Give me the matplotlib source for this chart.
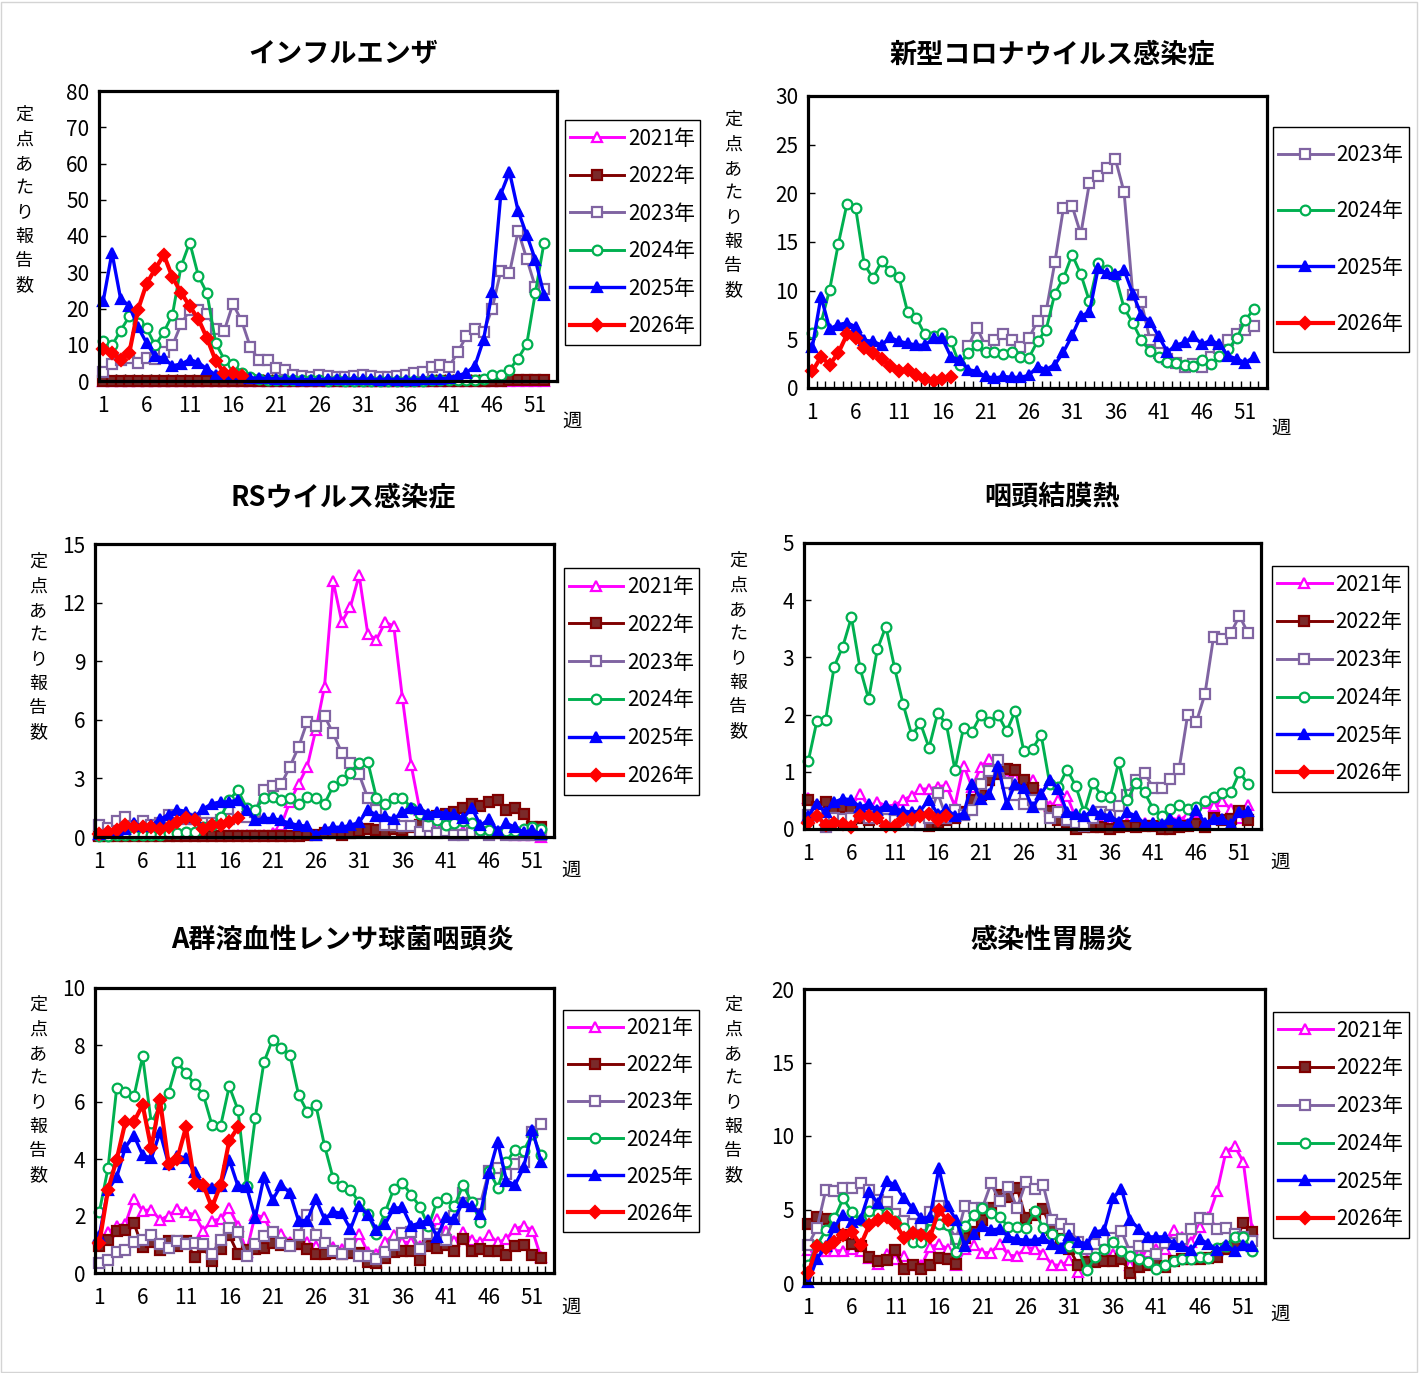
import numpy as np
import matplotlib
matplotlib.use("Agg")
import matplotlib.pyplot as plt
from matplotlib.patches import Rectangle

plt.rcParams['font.family'] = ['Noto Sans CJK JP', 'DejaVu Sans']

# ---------------- data (定点あたり報告数, by week) ----------------
years = ["2021年", "2022年", "2023年", "2024年", "2025年", "2026年"]
tick_weeks = [1, 6, 11, 16, 21, 26, 31, 36, 41, 46, 51]

# インフルエンザ
flu_2021 = [0.0, 0.0, 0.0, 0.0, 0.0, 0.0, 0.0, 0.0, 0.0, 0.0,
            0.0, 0.0, 0.0, 0.0, 0.0, 0.0, 0.0, 0.0, 0.0, 0.0,
            0.0, 0.0, 0.0, 0.0, 0.0, 0.0, 0.0, 0.0, 0.0, 0.0,
            0.0, 0.0, 0.0, 0.0, 0.0, 0.0, 0.0, 0.0, 0.0, 0.0,
            0.0, 0.0, 0.0, 0.0, 0.0, 0.0, 0.0, 0.0, 0.0, 0.0, 0.0, 0.0]
flu_2022 = [0.1, 0.1, 0.1, 0.1, 0.1, 0.1, 0.1, 0.1, 0.1, 0.1,
            0.1, 0.1, 0.1, 0.1, 0.1, 0.1, 0.1, 0.1, 0.1, 0.1,
            0.1, 0.1, 0.1, 0.1, 0.1, 0.1, 0.1, 0.1, 0.1, 0.1,
            0.1, 0.1, 0.1, 0.1, 0.1, 0.1, 0.1, 0.1, 0.1, 0.1,
            0.1, 0.1, 0.1, 0.1, 0.1, 0.1, 0.1, 0.2, 0.2, 0.2, 0.3, 0.3]
flu_2023 = [2.4, 4.7, 5.9, 6.3, 5.1, 6.3, 6.1, 7.9, 9.8, 15.7,
            19.6, 19.6, 18.5, 14.3, 13.9, 21.3, 16.6, 9.5, 5.7, 5.9,
            3.5, 2.9, 1.7, 1.3, 1.0, 1.6, 1.3, 1.0, 1.1, 1.3,
            1.7, 1.3, 1.0, 1.1, 1.3, 1.7, 2.2, 2.5, 4.0, 4.5,
            3.9, 7.9, 12.3, 14.4, 13.5, 20.0, 30.4, 29.7, 41.4, 33.7, 25.9, 25.4]
flu_2024 = [11.1, 9.8, 13.9, 17.8, 16.0, 14.6, 9.8, 13.5, 18.3, 31.7,
            38.2, 29.0, 24.2, 10.5, 5.9, 4.8, 2.2, 1.0, 0.6, 0.4,
            0.3, 0.3, 0.2, 0.2, 0.2, 0.2, 0.1, 0.2, 0.1, 0.1,
            0.1, 0.1, 0.1, 0.1, 0.1, 0.1, 0.1, 0.1, 0.2, 0.2,
            0.2, 0.3, 0.4, 0.4, 0.5, 1.7, 1.6, 3.1, 6.2, 10.2, 24.4, 38.2]
flu_2025 = [22.2, 35.4, 22.7, 20.7, 15.0, 10.5, 6.8, 6.3, 4.2, 4.7,
            5.9, 5.1, 3.3, 1.7, 1.5, 1.2, 1.0, 0.9, 0.8, 0.7,
            0.6, 0.5, 0.5, 0.4, 0.4, 0.4, 0.5, 0.6, 0.5, 0.5,
            0.5, 0.5, 0.4, 0.5, 0.4, 0.4, 0.4, 0.5, 0.5, 0.6,
            0.8, 1.5, 2.2, 4.2, 11.4, 24.6, 51.6, 57.7, 46.9, 40.3, 33.4, 23.8]
flu_2026 = [8.8, 7.7, 5.9, 7.7, 19.6, 26.8, 30.9, 34.8, 28.6, 24.4,
            20.6, 17.1, 11.8, 5.6, 2.2, 2.2, 1.5]

# 新型コロナウイルス感染症 (2023年は第19週から)
cov_2023 = [None, None, None, None, None, None, None, None, None, None,
            None, None, None, None, None, None, None, None, 4.3, 6.2,
            4.3, 4.9, 5.5, 4.9, 4.2, 5.1, 6.9, 7.9, 12.9, 18.5,
            18.7, 15.8, 21.1, 21.8, 22.6, 23.5, 20.1, 9.6, 8.8, 4.9,
            3.6, 3.0, 2.6, 2.2, 2.5, 2.2, 3.2, 4.1, 4.9, 5.5, 6.0, 6.4]
cov_2024 = [5.7, 6.7, 10.1, 14.8, 18.9, 18.5, 12.7, 11.3, 13.0, 12.0,
            11.4, 7.8, 7.2, 5.5, 5.3, 5.6, 4.8, 2.4, 3.6, 4.4,
            3.7, 3.7, 3.5, 3.7, 3.2, 3.1, 4.8, 6.0, 9.7, 11.3,
            13.7, 11.7, 8.9, 12.8, 12.1, 11.5, 8.2, 6.7, 4.9, 3.8,
            3.2, 2.7, 2.6, 2.4, 2.3, 2.9, 2.5, 3.3, 4.0, 5.1, 7.0, 8.1]
cov_2025 = [4.2, 9.4, 6.1, 6.5, 6.7, 6.3, 4.9, 4.8, 4.4, 5.2,
            4.8, 4.6, 4.4, 4.4, 5.1, 5.1, 3.2, 2.9, 1.9, 1.7,
            1.2, 1.0, 1.2, 1.1, 1.1, 1.3, 2.2, 1.9, 2.4, 3.7,
            5.4, 7.4, 7.8, 12.3, 11.8, 11.7, 12.1, 9.7, 7.5, 6.8,
            5.3, 3.7, 4.4, 4.7, 5.3, 4.5, 4.9, 4.5, 3.3, 3.0, 2.6, 3.2]
cov_2026 = [1.7, 3.2, 2.4, 3.6, 5.5, 5.1, 4.1, 3.6, 3.0, 2.3,
            1.7, 1.8, 1.3, 0.9, 0.7, 0.9, 1.1]

# RSウイルス感染症
rs_2021 = [0.1, 0.1, 0.1, 0.1, 0.1, 0.1, 0.1, 0.1, 0.1, 0.1,
           0.1, 0.1, 0.1, 0.1, 0.1, 0.1, 0.1, 0.1, 0.1, 0.1,
           0.2, 0.6, 1.8, 2.7, 3.6, 5.5, 7.7, 13.1, 11.0, 11.8,
           13.4, 10.4, 10.1, 11.0, 10.8, 7.1, 3.7, 1.4, 0.8, 0.5,
           0.4, 0.3, 0.3, 0.3, 0.3, 0.2, 0.2, 0.2, 0.1, 0.1, 0.1, 0.0]
rs_2022 = [0.05, 0.05, 0.05, 0.05, 0.05, 0.05, 0.05, 0.05, 0.05, 0.05,
           0.05, 0.05, 0.05, 0.05, 0.05, 0.05, 0.05, 0.05, 0.05, 0.05,
           0.05, 0.05, 0.05, 0.05, 0.1, 0.1, 0.2, 0.2, 0.1, 0.2,
           0.3, 0.4, 0.35, 0.25, 0.4, 0.35, 0.5, 0.6, 0.9, 1.1,
           1.2, 1.3, 1.5, 1.7, 1.6, 1.8, 1.9, 1.4, 1.5, 1.2, 0.5, 0.5]
rs_2023 = [0.6, 0.45, 0.8, 1.0, 0.55, 0.8, 0.6, 0.7, 1.15, 0.95,
           0.9, 0.9, 0.7, 0.7, 0.85, 0.9, 1.4, 1.0, 1.3, 2.4,
           2.6, 2.7, 3.6, 4.6, 5.9, 5.7, 6.2, 5.3, 4.3, 3.8,
           3.2, 2.0, 1.4, 0.6, 0.6, 0.55, 0.55, 0.25, 0.55, 0.2,
           0.3, 0.1, 0.1, 0.2, 0.25, 0.1, 0.2, 0.1, 0.1, 0.1, 0.1, 0.1]
rs_2024 = [0.05, 0.05, 0.1, 0.1, 0.1, 0.1, 0.1, 0.1, 0.2, 0.2,
           0.25, 0.25, 0.5, 0.6, 1.0, 1.9, 2.4, 1.5, 1.4, 2.0,
           2.05, 1.9, 2.0, 1.7, 2.05, 2.0, 1.7, 2.6, 2.9, 3.3,
           3.8, 3.85, 2.0, 1.7, 2.0, 2.0, 1.5, 1.2, 1.1, 0.85,
           0.6, 0.7, 0.8, 0.7, 0.35, 0.35, 0.25, 0.3, 0.3, 0.4, 0.5, 0.4]
rs_2025 = [0.15, 0.25, 0.35, 0.4, 0.7, 0.55, 0.6, 0.9, 1.15, 1.4,
           1.3, 1.0, 1.45, 1.7, 1.8, 1.8, 1.9, 1.4, 0.85, 0.95,
           0.95, 0.85, 0.7, 0.6, 0.55, 0.1, 0.4, 0.5, 0.5, 0.6,
           0.75, 1.4, 1.1, 1.05, 0.9, 1.3, 1.5, 1.45, 1.2, 1.3,
           1.2, 1.2, 0.95, 1.5, 0.6, 0.9, 0.3, 0.7, 0.5, 0.25, 0.35, 0.15]
rs_2026 = [0.15, 0.25, 0.35, 0.6, 0.5, 0.5, 0.5, 0.4, 0.5, 0.75,
           0.95, 0.85, 0.4, 0.6, 0.6, 0.75, 0.95]

# 咽頭結膜熱
ad_2021 = [0.55, 0.35, 0.3, 0.3, 0.35, 0.4, 0.61, 0.4, 0.47, 0.41,
           0.41, 0.51, 0.58, 0.7, 0.7, 0.74, 0.76, 0.4, 1.11, 0.73,
           1.08, 1.23, 1.2, 0.9, 0.9, 0.75, 0.85, 0.61, 0.4, 0.5,
           0.58, 0.2, 0.1, 0.15, 0.1, 0.1, 0.1, 0.1, 0.15, 0.1,
           0.1, 0.15, 0.2, 0.15, 0.25, 0.3, 0.45, 0.41, 0.49, 0.35, 0.2, 0.42]
ad_2022 = [0.51, 0.38, 0.47, 0.3, 0.38, 0.35, 0.2, 0.15, 0.2, 0.15,
           0.15, 0.2, 0.15, 0.1, 0.05, 0.1, 0.15, 0.2, 0.3, 0.5,
           0.6, 0.86, 0.96, 1.05, 1.04, 0.86, 0.72, 0.44, 0.32, 0.15,
           0.1, 0.0, 0.03, 0.03, 0.04, 0.0, 0.04, 0.06, 0.04, 0.05,
           0.05, 0.0, 0.0, 0.03, 0.06, 0.09, 0.03, 0.2, 0.15, 0.18, 0.32, 0.15]
ad_2023 = [0.25, 0.3, 0.03, 0.2, 0.18, 0.2, 0.25, 0.2, 0.25, 0.18,
           0.15, 0.09, 0.15, 0.07, 0.2, 0.63, 0.2, 0.33, 0.25, 0.33,
           0.79, 1.02, 1.2, 0.8, 0.6, 0.44, 0.5, 0.44, 0.2, 0.29,
           0.15, 0.1, 0.06, 0.2, 0.29, 0.25, 0.41, 0.6, 0.86, 0.98,
           0.72, 0.72, 0.88, 1.05, 2.0, 1.87, 2.36, 3.36, 3.32, 3.42, 3.73, 3.42]
ad_2024 = [1.19, 1.89, 1.9, 2.84, 3.19, 3.7, 2.81, 2.27, 3.14, 3.54,
           2.82, 2.18, 1.64, 1.85, 1.42, 2.02, 1.84, 1.04, 1.77, 1.7,
           1.99, 1.87, 2.0, 1.71, 2.06, 1.36, 1.4, 1.65, 0.79, 0.73,
           1.04, 0.76, 0.29, 0.81, 0.58, 0.56, 1.17, 0.51, 0.8, 0.64,
           0.35, 0.23, 0.35, 0.42, 0.35, 0.38, 0.49, 0.56, 0.63, 0.64, 0.99, 0.79]
ad_2025 = [0.23, 0.44, 0.29, 0.47, 0.53, 0.51, 0.38, 0.44, 0.33, 0.41,
           0.35, 0.32, 0.29, 0.32, 0.51, 0.26, 0.35, 0.23, 0.27, 0.79,
           0.53, 0.61, 1.11, 0.44, 0.79, 0.72, 0.38, 0.61, 0.85, 0.7,
           0.29, 0.27, 0.22, 0.33, 0.26, 0.23, 0.13, 0.29, 0.23, 0.09,
           0.1, 0.09, 0.18, 0.12, 0.09, 0.33, 0.1, 0.18, 0.18, 0.09, 0.29, 0.31]
ad_2026 = [0.1, 0.23, 0.07, 0.1, 0.09, 0.04, 0.23, 0.23, 0.2, 0.06,
           0.06, 0.18, 0.18, 0.23, 0.26, 0.15, 0.23]

# A群溶血性レンサ球菌咽頭炎
gas_2021 = [1.19, 1.43, 1.64, 1.72, 2.6, 2.19, 2.22, 1.87, 2.01, 2.25,
            2.13, 2.04, 1.49, 1.84, 1.89, 2.27, 1.66, 0.75, 2.04, 1.95,
            1.37, 1.37, 1.1, 1.02, 1.08, 0.96, 0.9, 0.9, 0.84, 0.73,
            1.37, 0.73, 0.67, 1.1, 1.33, 1.08, 1.08, 0.96, 1.02, 1.89,
            1.49, 1.13, 1.43, 1.16, 1.08, 1.33, 1.08, 1.19, 1.54, 1.66, 1.49, 0.55]
gas_2022 = [0.96, 1.16, 1.49, 1.52, 1.74, 0.9, 1.1, 0.82, 1.13, 0.96,
            1.13, 0.55, 0.9, 0.43, 0.84, 1.33, 0.67, 0.8, 0.84, 0.87,
            1.05, 0.98, 1.0, 1.02, 0.84, 0.67, 0.67, 0.7, 0.67, 0.7,
            0.7, 0.4, 0.34, 0.51, 0.75, 0.78, 0.78, 0.47, 0.96, 0.88,
            1.0, 0.78, 1.19, 0.78, 0.84, 0.78, 0.78, 0.63, 0.96, 0.98, 0.63, 0.51]
gas_2023 = [0.35, 0.47, 0.73, 0.81, 1.1, 1.17, 1.33, 1.02, 0.87, 1.13,
            1.02, 1.05, 1.02, 0.67, 1.17, 1.57, 1.43, 0.61, 1.02, 1.31,
            1.43, 1.05, 0.96, 1.33, 2.04, 1.33, 1.05, 0.78, 0.67, 1.02,
            0.58, 0.58, 0.49, 0.75, 0.98, 1.4, 1.43, 0.84, 1.37, 1.37,
            1.17, 2.01, 2.81, 2.36, 2.42, 3.59, 3.67, 3.47, 3.82, 3.88, 4.94, 5.23]
gas_2024 = [2.15, 3.67, 6.48, 6.34, 6.2, 7.6, 5.26, 5.85, 6.32, 7.39,
            7.02, 6.63, 6.26, 5.2, 5.15, 6.55, 5.73, 3.06, 5.43, 7.39,
            8.19, 7.88, 7.66, 6.26, 5.66, 5.9, 4.47, 3.32, 3.06, 2.92,
            2.48, 2.07, 1.37, 2.13, 2.95, 3.16, 2.75, 2.33, 1.64, 2.5,
            2.63, 2.34, 3.09, 2.48, 1.8, 3.59, 3.0, 3.88, 4.33, 4.29, 4.88, 4.14]
gas_2025 = [1.31, 2.92, 3.36, 4.41, 4.82, 4.14, 4.02, 4.94, 3.82, 4.12,
            4.02, 3.53, 3.06, 2.98, 3.06, 3.98, 3.06, 3.03, 1.93, 3.36,
            2.56, 3.09, 2.81, 1.84, 1.84, 2.6, 1.89, 2.15, 2.09, 1.54,
            2.34, 2.04, 1.52, 1.72, 2.27, 2.3, 1.66, 1.75, 1.86, 1.27,
            1.95, 1.89, 2.5, 2.34, 2.07, 3.51, 4.61, 3.24, 3.09, 3.71, 5.03, 3.91]
gas_2026 = [1.05, 2.92, 3.98, 5.29, 5.31, 5.9, 4.37, 6.08, 3.82, 4.0,
            5.11, 3.16, 3.09, 2.3, 3.09, 4.64, 5.11]

# 感染性胃腸炎
ge_2021 = [2.23, 2.18, 2.2, 2.2, 2.2, 2.34, 2.2, 1.7, 1.32, 2.0,
           1.66, 1.84, 1.25, 1.2, 2.45, 2.64, 2.34, 1.2, 2.3, 2.57,
           2.07, 2.07, 2.68, 1.89, 1.84, 2.41, 2.34, 2.0, 1.25, 1.2,
           1.55, 0.75, 1.55, 1.6, 1.89, 2.0, 1.7, 1.2, 2.0, 2.11,
           2.3, 2.34, 3.6, 3.14, 2.8, 3.82, 4.5, 6.25, 8.9, 9.32, 8.25, 3.7]
ge_2022 = [3.98, 4.5, 4.34, 3.8, 3.25, 2.68, 2.52, 1.77, 1.48, 1.55,
           2.23, 0.98, 1.2, 0.98, 1.25, 1.7, 1.66, 1.32, 3.07, 3.5,
           4.3, 5.07, 5.98, 5.86, 6.48, 4.39, 4.61, 5.02, 3.59, 3.0,
           2.34, 1.25, 1.4, 1.45, 1.48, 1.5, 1.61, 0.7, 1.09, 1.2,
           1.43, 1.09, 1.5, 1.66, 1.6, 1.6, 1.7, 1.77, 2.34, 2.57, 4.11, 3.48]
ge_2023 = [2.61, 3.75, 6.32, 6.25, 6.43, 6.43, 6.82, 6.32, 5.64, 5.5,
           4.66, 4.2, 4.0, 3.93, 4.8, 5.23, 4.0, 3.0, 5.25, 5.07,
           5.11, 6.77, 5.57, 6.55, 5.11, 6.84, 6.39, 6.66, 4.27, 3.98,
           3.7, 2.8, 2.3, 2.68, 2.9, 3.07, 3.52, 2.1, 2.52, 2.52,
           2.0, 2.7, 2.7, 3.0, 3.66, 4.39, 4.34, 3.7, 3.75, 3.36, 3.14, 2.84]
ge_2024 = [1.25, 2.57, 3.59, 4.39, 5.75, 4.84, 4.27, 4.89, 4.77, 4.73,
           4.2, 3.75, 2.8, 2.8, 4.27, 4.0, 3.93, 2.11, 3.89, 4.61,
           5.11, 4.77, 4.5, 3.82, 3.82, 3.75, 4.89, 3.75, 3.36, 3.02,
           2.5, 2.4, 0.86, 1.77, 2.34, 2.8, 2.18, 1.84, 1.66, 1.43,
           0.98, 1.25, 1.48, 1.61, 1.66, 1.77, 1.7, 2.4, 2.5, 3.14, 3.14, 2.16]
ge_2025 = [0.07, 1.66, 2.5, 3.82, 4.61, 4.16, 4.32, 6.16, 5.41, 6.95,
           6.66, 5.75, 5.07, 4.39, 4.5, 7.8, 5.25, 4.27, 2.52, 3.36,
           3.89, 3.59, 3.7, 3.14, 2.98, 2.91, 2.91, 3.07, 2.68, 2.39,
           3.25, 2.8, 2.68, 3.48, 3.59, 5.75, 6.39, 4.27, 3.7, 3.14,
           3.14, 3.14, 2.68, 2.52, 2.23, 2.98, 2.68, 2.23, 2.61, 2.16, 2.61, 2.52]
ge_2026 = [0.7, 2.52, 2.41, 2.8, 3.25, 3.48, 2.57, 3.93, 4.27, 4.5,
           4.05, 3.07, 3.41, 3.25, 3.14, 4.95, 4.27]

# ---------------- styles ----------------
styles = {
    "2021年": dict(color="#FF00FF", marker="^", mfc="white", mec="#FF00FF", ms=7, lw=2.1),
    "2022年": dict(color="#7F0000", marker="s", mfc="#7a2a2a", mec="#7F0000", ms=6.5, lw=2.1),
    "2023年": dict(color="#8064A2", marker="s", mfc="white", mec="#8064A2", ms=7, lw=2.1),
    "2024年": dict(color="#00B050", marker="o", mfc="white", mec="#00B050", ms=7, lw=2.1),
    "2025年": dict(color="#0000FF", marker="^", mfc="#0000FF", mec="#0000FF", ms=7.5, lw=2.4),
    "2026年": dict(color="#FF0000", marker="D", mfc="#FF0000", mec="#FF0000", ms=6.5, lw=3.0),
}

W, H = 1419, 1373
fig = plt.figure(figsize=(W / 100, H / 100), dpi=100)
fig.patch.set_facecolor("white")
fig.add_artist(Rectangle((0.0005, 0.0005), 0.998, 0.998, transform=fig.transFigure,
                         fill=False, edgecolor="#d4d4d4", linewidth=1))

# panel layout: title, series, ymax, ystep, axes box px, title pos, ylabel pos, legend box px, 週 pos
panels = [
    ("インフルエンザ",
     {"2021年": flu_2021, "2022年": flu_2022, "2023年": flu_2023, "2024年": flu_2024,
      "2025年": flu_2025, "2026年": flu_2026},
     80, 10, (99, 91, 557, 381), (343, 52), (24, 115), (565, 120, 700, 345), (572, 421)),
    ("新型コロナウイルス感染症",
     {"2023年": cov_2023, "2024年": cov_2024, "2025年": cov_2025, "2026年": cov_2026},
     30, 5, (808, 96, 1267, 388), (1052, 52), (733, 120), (1273, 127, 1409, 352), (1281, 428)),
    ("RSウイルス感染症",
     {"2021年": rs_2021, "2022年": rs_2022, "2023年": rs_2023, "2024年": rs_2024,
      "2025年": rs_2025, "2026年": rs_2026},
     15, 3, (95, 544, 554, 837), (343, 495), (38, 562), (564, 568, 699, 795), (571, 870)),
    ("咽頭結膜熱",
     {"2021年": ad_2021, "2022年": ad_2022, "2023年": ad_2023, "2024年": ad_2024,
      "2025年": ad_2025, "2026年": ad_2026},
     5, 1, (804, 543, 1261, 829), (1052, 495), (738, 561), (1272, 566, 1408, 792), (1280, 862)),
    ("A群溶血性レンサ球菌咽頭炎",
     {"2021年": gas_2021, "2022年": gas_2022, "2023年": gas_2023, "2024年": gas_2024,
      "2025年": gas_2025, "2026年": gas_2026},
     10, 2, (95, 988, 554, 1273), (343, 938), (38, 1005), (563, 1010, 699, 1232), (571, 1307)),
    ("感染性胃腸炎",
     {"2021年": ge_2021, "2022年": ge_2022, "2023年": ge_2023, "2024年": ge_2024,
      "2025年": ge_2025, "2026年": ge_2026},
     20, 5, (804, 989, 1265, 1283), (1052, 938), (733, 1005), (1273, 1012, 1409, 1238), (1280, 1314)),
]

ylabel_chars = "定点あたり報告数"

for title, series, ymax, ystep, (l, t, r, b), (tx, ty), (yx, yy), (lx, lt, lr, lb), (wx, wy) in panels:
    ax = fig.add_axes([l / W, 1 - b / H, (r - l) / W, (b - t) / H])
    for name, vals in series.items():
        v = np.array(vals, dtype=float)
        x = np.arange(1, len(v) + 1)
        st = styles[name]
        ax.plot(x, v, color=st["color"], lw=st["lw"], marker=st["marker"], ms=st["ms"],
                mfc=st["mfc"], mec=st["mec"], mew=1.6, label=name, clip_on=False)
    ax.set_xlim(0.5, 53.5)
    ax.set_ylim(0, ymax)
    ax.set_yticks(np.arange(0, ymax + ystep / 2, ystep))
    ax.set_xticks(tick_weeks)
    ax.set_xticks(np.arange(1.5, 53, 1), minor=True)
    ax.tick_params(axis="x", which="major", length=0, pad=10, labelsize=15)
    ax.tick_params(axis="x", which="minor", direction="in", length=5, width=1)
    ax.tick_params(axis="y", direction="in", length=5, width=1, pad=7, labelsize=15)
    for sp in ax.spines.values():
        sp.set_linewidth(2.3)
        sp.set_color("black")

    fig.text(tx / W, 1 - (ty + 2) / H, title, ha="center", va="center", fontsize=19.5, fontweight="bold")
    for i, ch in enumerate(ylabel_chars):
        fig.text(yx / W, 1 - (yy + i * 24.3) / H, ch, ha="center", va="center", fontsize=13)
    fig.text(wx / W, 1 - wy / H, "週", ha="center", va="center", fontsize=14)

    # legend: frame drawn separately so the box matches the original size
    n = len(series)
    row_px = (lb - lt) / n
    ls = (row_px - 22) / 20.8
    ax.legend(loc="center", bbox_to_anchor=((lx + lr) / 2 / W, 1 - (lt + lb) / 2 / H),
              bbox_transform=fig.transFigure, borderaxespad=0, fontsize=15,
              labelspacing=ls, handlelength=2.6, handletextpad=0.2,
              borderpad=0.0, frameon=False)
    fig.add_artist(Rectangle((lx / W, 1 - lb / H), (lr - lx) / W, (lb - lt) / H,
                             transform=fig.transFigure, fill=False, edgecolor="black", linewidth=1))

fig.savefig("out.png", dpi=100)
